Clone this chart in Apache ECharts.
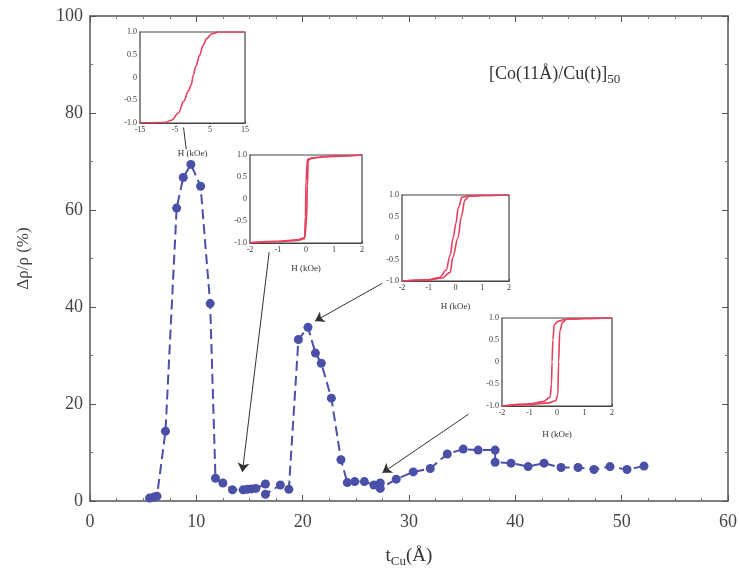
<!DOCTYPE html>
<html>
<head>
<meta charset="utf-8">
<script src="https://cdn.jsdelivr.net/npm/echarts@6/dist/echarts.min.js"></script>
<style>html,body{margin:0;padding:0;background:#fff}#c{width:740px;height:573px}</style>
</head>
<body>
<div id="c"></div>
<script>
// Main data: Cu thickness (Å) and magnetoresistance (%)
const tCu  = [5.6, 6.0, 6.3, 7.1, 8.15, 8.77, 9.49, 10.4, 11.3, 11.8, 12.5, 13.4, 14.4, 14.8, 15.2, 15.6, 16.5, 16.5, 17.9, 18.7,
              19.6, 20.5, 21.2, 21.75, 22.7, 23.6, 24.2, 24.9, 25.8, 26.7, 27.3, 27.3, 28.8, 30.4, 32.0, 33.6, 35.1, 36.5, 38.1, 38.1,
              39.6, 41.2, 42.7, 44.3, 45.9, 47.4, 48.9, 50.5, 52.1];
const drho = [0.6, 0.8, 1.0, 14.4, 60.4, 66.7, 69.4, 64.9, 40.7, 4.7, 3.7, 2.3, 2.3, 2.4, 2.5, 2.6, 3.5, 1.4, 3.3, 2.4,
              33.3, 35.8, 30.5, 28.4, 21.2, 8.5, 3.8, 4.0, 4.0, 3.3, 3.7, 2.6, 4.5, 6.0, 6.7, 9.7, 10.7, 10.5, 10.5, 8.0,
              7.8, 7.1, 7.8, 6.9, 6.9, 6.5, 7.1, 6.5, 7.2];
const xTicks = [0, 10, 20, 30, 40, 50, 60];
const yTicks = [0, 20, 40, 60, 80, 100];

// Annotation arrows (from inset to data point), data coordinates
const arrowFrom = [[16.85, 51.3], [27.5, 44.9], [35.6, 17.9]];
const arrowTo   = [[14.33, 6.0], [21.16, 37.1], [27.5, 5.8]];
const tickFrom = [8.8, 77.0];
const tickTo   = [9.05, 72.5];

// Inset hysteresis loops: [H (kOe), M/Ms]
const loop1 = [[-15,-1],[-8,-0.99],[-6,-0.94],[-4,-0.78],[-2.5,-0.52],[-1.2,-0.3],[-0.3,-0.15],[0.2,0.05],[1,0.25],[2,0.48],[3,0.7],[4,0.85],[5.5,0.96],[7.5,1],[15,1]];
const loop2Up   = [[-2,-1],[-1,-0.97],[-0.3,-0.94],[-0.05,-0.9],[0.02,-0.5],[0.05,0.3],[0.08,0.88],[0.2,0.93],[0.6,0.96],[2,1]];
const loop2Down = [[2,1],[1,0.98],[0.3,0.94],[0.05,0.9],[0.0,0.4],[-0.02,-0.4],[-0.05,-0.88],[-0.3,-0.93],[-1,-0.96],[-2,-0.99]];
const loop3Up   = [[-2,-1],[-1,-0.98],[-0.5,-0.93],[-0.2,-0.8],[-0.1,-0.45],[0.09,0],[0.22,0.5],[0.35,0.88],[0.5,0.97],[1,0.99],[2,1]];
const loop3Down = [[2,1],[1,0.99],[0.5,0.98],[0.25,0.95],[0.1,0.7],[0.02,0.35],[-0.09,0],[-0.2,-0.4],[-0.35,-0.75],[-0.6,-0.92],[-1,-0.97],[-2,-1]];
const loop4Up   = [[-2,-1],[-1,-0.97],[-0.3,-0.93],[-0.05,-0.88],[0.03,-0.75],[0.06,0],[0.1,0.7],[0.2,0.9],[0.35,0.97],[1,0.99],[2,1]];
const loop4Down = [[2,1],[1,0.99],[0.3,0.97],[0.05,0.93],[-0.1,0.85],[-0.15,0.5],[-0.18,0],[-0.2,-0.5],[-0.25,-0.8],[-0.5,-0.9],[-1,-0.95],[-2,-1]];

const titleMain = '[Co(11Å)/Cu(t)]';
const titleSub = '50';

const SERIF = 'Liberation Serif';
const mainColor = '#4a4fa8';
const loopColor = '#e5405e';

const mainData = tCu.map((x, i) => [x, drho[i]]);
const arrows = arrowFrom.map((f, i) => [{coord: f}, {coord: arrowTo[i]}]);

function mainX(pos, showLabel) {
  return {
    type: 'value', gridIndex: 0, position: pos, min: xTicks[0], max: xTicks[xTicks.length-1], interval: xTicks[1]-xTicks[0],
    axisLine: {show: true, onZero: false, lineStyle: {color: '#555', width: 1.5}},
    axisTick: {show: true, inside: true, length: 6, lineStyle: {color: '#555'}},
    minorTick: {show: true, splitNumber: 4, length: 3, lineStyle: {color: '#777'}},
    axisLabel: {show: showLabel, fontFamily: SERIF, fontSize: 18, color: '#444', margin: 12},
    splitLine: {show: false}
  };
}
function mainY(pos, showLabel) {
  return {
    type: 'value', gridIndex: 0, position: pos, min: yTicks[0], max: yTicks[yTicks.length-1], interval: yTicks[1]-yTicks[0],
    axisLine: {show: true, onZero: false, lineStyle: {color: '#555', width: 1.5}},
    axisTick: {show: true, inside: true, length: 6, lineStyle: {color: '#555'}},
    minorTick: {show: true, splitNumber: 2, length: 3, lineStyle: {color: '#777'}},
    axisLabel: {show: showLabel, fontFamily: SERIF, fontSize: 18, color: '#444', margin: 7},
    splitLine: {show: false}
  };
}
function insetX(g, min, max, interval, gap) {
  return {
    type: 'value', gridIndex: g, min: min, max: max, interval: interval,
    name: 'H (kOe)', nameLocation: 'middle', nameGap: gap,
    nameTextStyle: {fontFamily: SERIF, fontSize: 9, color: '#333'},
    axisLine: {show: true, onZero: false, lineStyle: {color: '#444', width: 1.2}},
    axisTick: {show: true, inside: true, length: 2, lineStyle: {color: '#444'}},
    axisLabel: {fontFamily: SERIF, fontSize: 8, color: '#333', margin: 3, formatter: v => String(v)},
    splitLine: {show: false}
  };
}
function insetY(g) {
  return {
    type: 'value', gridIndex: g, min: -1, max: 1, interval: 0.5,
    axisLine: {show: true, onZero: false, lineStyle: {color: '#444', width: 1.2}},
    axisTick: {show: true, inside: true, length: 2, lineStyle: {color: '#444'}},
    axisLabel: {fontFamily: SERIF, fontSize: 8, color: '#333', margin: 3,
      formatter: v => v === 0 ? '0' : (Number.isInteger(v) ? v.toFixed(1) : String(v))},
    splitLine: {show: false}
  };
}
function loopSeries(idx, data) {
  return {
    type: 'line', xAxisIndex: idx, yAxisIndex: idx, data: data, showSymbol: false, symbol: 'none',
    smooth: 0.35, smoothMonotone: 'x', lineStyle: {color: loopColor, width: 1.6}, silent: true, z: 5
  };
}
const insetGrid = {show: true, borderColor: '#444', borderWidth: 1.2, backgroundColor: '#fff', z: 3};

const chart = echarts.init(document.getElementById('c'), null, {renderer: 'canvas'});
chart.setOption({
  animation: false,
  backgroundColor: '#fff',
  title: {
    text: '{a|' + titleMain + '}{b|' + titleSub + '}',
    left: 484, top: 58,
    textStyle: {fontWeight: 'normal', rich: {
      a: {fontFamily: SERIF, fontSize: 18, color: '#333', fontWeight: 'normal'},
      b: {fontFamily: SERIF, fontSize: 13, color: '#333', fontWeight: 'normal', verticalAlign: 'bottom', padding: [10, 0, 0, 0]}
    }}
  },
  grid: [
    {left: 90, top: 16, width: 641, height: 485},
    Object.assign({left: 140, top: 32, width: 105, height: 91}, insetGrid),
    Object.assign({left: 250, top: 155, width: 112, height: 88}, insetGrid),
    Object.assign({left: 402, top: 195, width: 107, height: 86}, insetGrid),
    Object.assign({left: 502, top: 318, width: 110, height: 88}, insetGrid)
  ],
  xAxis: [
    Object.assign(mainX('bottom', true), {
      name: '{t|t}{s|Cu}{t|(Å)}', nameLocation: 'middle', nameGap: 44,
      nameTextStyle: {rich: {
        t: {fontFamily: SERIF, fontSize: 19, color: '#333'},
        s: {fontFamily: SERIF, fontSize: 13, color: '#333', verticalAlign: 'bottom', padding: [10, 0, 0, 0]}
      }}
    }),
    insetX(1, -15, 15, 10, 26),
    insetX(2, -2, 2, 1, 21),
    insetX(3, -2, 2, 1, 21),
    insetX(4, -2, 2, 1, 24),
    mainX('top', false)
  ],
  yAxis: [
    Object.assign(mainY('left', true), {
      name: 'Δρ/ρ (%)', nameLocation: 'middle', nameGap: 58,
      nameTextStyle: {fontFamily: SERIF, fontSize: 17, color: '#444'}
    }),
    insetY(1), insetY(2), insetY(3), insetY(4),
    mainY('right', false)
  ],
  series: [
    {
      type: 'line', xAxisIndex: 0, yAxisIndex: 0, data: mainData,
      symbol: 'circle', symbolSize: 9,
      itemStyle: {color: mainColor},
      lineStyle: {color: mainColor, width: 2, type: [10, 5]},
      z: 2,
      markLine: {
        silent: true, symbol: ['none', 'arrow'], symbolSize: 9,
        label: {show: false},
        lineStyle: {color: '#333', width: 1, type: 'solid'},
        emphasis: {disabled: true},
        data: arrows.concat([[{coord: tickFrom, symbol: 'none'}, {coord: tickTo, symbol: 'none'}]])
      }
    },
    loopSeries(1, loop1),
    loopSeries(2, loop2Up), loopSeries(2, loop2Down),
    loopSeries(3, loop3Up), loopSeries(3, loop3Down),
    loopSeries(4, loop4Up), loopSeries(4, loop4Down)
  ]
});
</script>
</body>
</html>
